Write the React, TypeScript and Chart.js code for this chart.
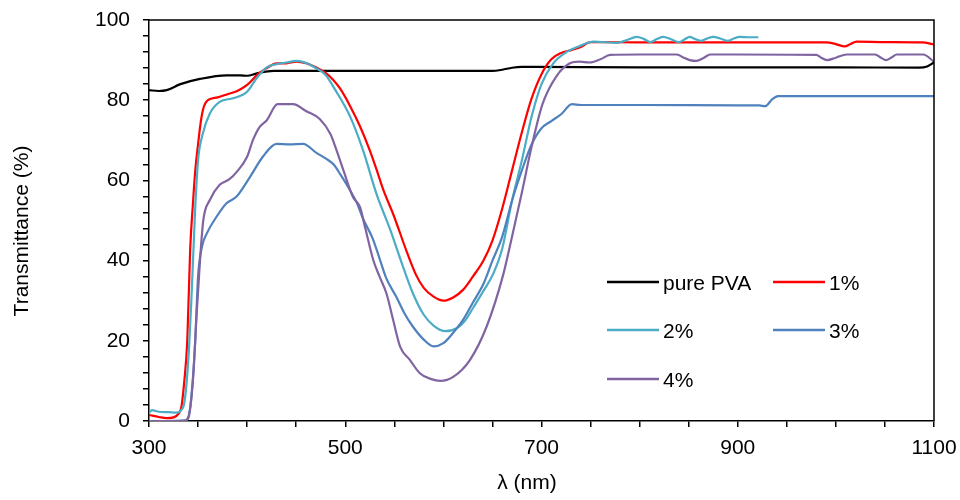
import React, { useEffect, useRef } from "react";
import { Chart, registerables } from "chart.js";

Chart.register(...registerables);

const FONT = "'Liberation Sans', Arial, Helvetica, sans-serif";

// ---- data ----
const seriesLabels = ["pure PVA", "1%", "2%", "3%", "4%"];
const seriesColors = ["#000000", "#FF0000", "#4BACC6", "#4F81BD", "#8064A2"];
const xTickLabels = [300, 500, 700, 900, 1100];
const yTickLabels = [0, 20, 40, 60, 80, 100];

const pvaX = [300, 310, 318, 332, 352, 379, 393, 400, 410, 427, 500, 600, 650, 660, 670, 680, 690, 800, 900, 1000, 1085, 1093, 1100];
const pvaY = [82.5, 82.3, 82.5, 84.0, 85.3, 86.2, 86.2, 86.1, 86.7, 87.3, 87.3, 87.3, 87.3, 87.6, 88.1, 88.3, 88.3, 88.2, 88.2, 88.2, 88.1, 88.4, 89.4];

const p1X = [300, 310, 318, 325, 330, 333, 336, 339, 342, 345, 347, 350, 353, 356, 360, 370, 380, 390, 400, 411, 420, 430, 440, 450, 460, 470, 480, 488, 495, 505, 515, 525, 532, 539, 549, 563, 572, 580, 590, 600, 610, 620, 630, 641, 650, 660, 670, 680, 690, 700, 710, 720, 730, 740, 750, 800, 900, 990, 1000, 1009, 1015, 1021, 1050, 1088, 1100];
const p1Y = [1.5, 1.0, 0.7, 0.9, 1.8, 3.5, 10, 20, 43, 55, 62, 69, 75, 78.5, 80, 80.7, 81.5, 82.3, 83.8, 86.5, 88, 89.2, 89.2, 89.6, 89.2, 88.2, 86.8, 85, 82.8, 78.5, 73.5, 67.5, 62.6, 57.5, 51.5, 42, 36.5, 33.2, 31, 30, 30.8, 32.7, 36, 40.1, 45, 53, 62.5, 72, 80.5, 86.5, 90.2, 91.8, 92.5, 93.3, 94.5, 94.4, 94.4, 94.4, 94.0, 93.4, 94.0, 94.6, 94.5, 94.4, 93.9];

const p2X = [300, 303, 310, 320, 328, 333, 336, 340, 343.5, 347, 350, 355, 362, 372, 386, 400, 410, 420, 430, 440, 450, 460, 470, 480, 490, 505, 518, 532, 546, 556, 569, 580, 590, 602, 614, 622, 631, 641, 651, 660, 670, 680, 690, 700, 712, 726, 739, 753, 777, 787, 797, 804, 811, 818, 824, 832, 840, 846, 851, 856, 862, 868, 875, 882, 890, 896, 902, 912, 921];
const p2Y = [2.0, 2.7, 2.3, 2.2, 2.1, 2.8, 4.5, 15, 32, 52.6, 65, 71.8, 76.7, 79.6, 80.5, 82.1, 85.6, 88.2, 89.0, 89.4, 89.8, 89.3, 88.0, 86.3, 82.5, 75.9, 67.6, 56.5, 47.6, 40.5, 31.8, 26.5, 23.8, 22.4, 23.2, 25, 28.5, 32.5, 36.8, 43, 55, 65, 76, 84, 89.2, 92.1, 93.5, 94.6, 94.3, 95.0, 95.8, 95.3, 94.5, 95.3, 95.8, 95.2, 94.5, 95.2, 95.8, 95.3, 94.8, 95.3, 95.8, 95.4, 94.8, 95.4, 95.8, 95.7, 95.7];

const p3X = [300, 320, 336, 340, 343.5, 347, 350, 354, 359, 369, 379, 389, 403, 416, 430, 443, 457, 471, 480, 488, 495, 505, 512, 518, 528, 535, 542, 552, 560, 569, 580, 590, 600, 610, 620, 630, 641, 650, 660, 670, 680, 690, 700, 710, 720, 731, 740, 800, 900, 922, 928, 935, 941, 1000, 1100];
const p3Y = [0, 0, 0.1, 0.7, 6.9, 19.4, 36, 43.5, 46.8, 51, 54.3, 55.9, 60.9, 65.9, 69.1, 69, 69.1, 66.8, 65.5, 64, 61.5, 57.5, 54.3, 50.5, 45.5, 40.5, 35.5, 31, 27, 23.5, 20.3, 18.6, 19.4, 22, 25.2, 29.5, 34.3, 40, 46, 55, 62.5, 69, 73, 74.8, 76.5, 79, 78.8, 78.8, 78.7, 78.7, 78.5, 80.2, 81.0, 81.0, 81.0];

const p4X = [300, 320, 337, 341.7, 345, 348.6, 352, 355.3, 362, 372, 382, 389, 400, 406, 413, 420, 431, 447, 460, 474, 485, 491, 498, 508, 515, 520, 528.6, 535, 542, 549, 556, 566, 576, 587, 597, 610, 627, 644, 661, 670, 680, 690, 701, 715, 729, 739, 749, 760, 770, 800, 838, 845, 851, 858, 865, 872, 900, 980, 985, 991, 1000, 1011, 1040, 1046, 1051, 1057, 1062, 1089, 1100];
const p4Y = [0, 0, 0.1, 2.7, 11, 26.9, 40.1, 50, 55.1, 58.9, 60.3, 62, 65.9, 70.1, 73.4, 75, 79, 79, 77.3, 75.3, 71.5, 67.6, 62.6, 55.8, 53.4, 48.5, 40.1, 36, 31.8, 25, 18.5, 15.2, 11.9, 10.5, 10, 11, 15.2, 23.5, 36.5, 46, 57, 68.5, 79, 85.9, 89.2, 89.6, 89.4, 90.2, 91.3, 91.4, 91.4, 90.6, 90, 89.8, 90.5, 91.4, 91.4, 91.3, 90.6, 90.0, 90.6, 91.4, 91.4, 90.6, 90.0, 90.7, 91.4, 91.4, 89.6];

const seriesX = [pvaX, p1X, p2X, p3X, p4X];
const seriesY = [pvaY, p1Y, p2Y, p3Y, p4Y];

const xTitle = "λ (nm)";
const yTitle = "Transmittance (%)";

function toPoints(xs: number[], ys: number[]) {
  return xs.map((x, i) => ({ x, y: ys[i] }));
}

const FS = 21;

const decorPlugin = {
  id: "decor",
  afterDraw(chart: any) {
    const { ctx, chartArea: a } = chart;
    ctx.save();
    // frame: top and right sides
    ctx.strokeStyle = "#000";
    ctx.lineWidth = 1.5;
    ctx.beginPath();
    ctx.moveTo(a.left, a.top);
    ctx.lineTo(a.right, a.top);
    ctx.lineTo(a.right, a.bottom);
    ctx.stroke();

    // legend inside the plot area, two columns
    ctx.font = `${FS}px ${FONT}`;
    ctx.fillStyle = "#000";
    ctx.textAlign = "left";
    ctx.textBaseline = "alphabetic";
    const colX = [a.left + 458, a.left + 624];
    const rowY = [a.top + 262, a.top + 310, a.top + 359];
    chart.data.datasets.forEach((ds: any, i: number) => {
      const x = colX[i % 2];
      const y = rowY[Math.floor(i / 2)];
      ctx.strokeStyle = ds.borderColor;
      ctx.lineWidth = 2.5;
      ctx.beginPath();
      ctx.moveTo(x, y);
      ctx.lineTo(x + 52, y);
      ctx.stroke();
      ctx.fillText(ds.label, x + 56, y + 0.36 * FS);
    });

    // axis titles
    ctx.textAlign = "center";
    ctx.fillText(xTitle, 527, 489);
    ctx.translate(28, 231);
    ctx.rotate(-Math.PI / 2);
    ctx.fillText(yTitle, 0, 0);
    ctx.restore();
  },
};

export default function App() {
  const ref = useRef<HTMLCanvasElement | null>(null);

  useEffect(() => {
    if (!ref.current) return;
    const datasets = seriesLabels.map((label, i) => ({
      label,
      data: toPoints(seriesX[i], seriesY[i]),
      borderColor: seriesColors[i],
      backgroundColor: seriesColors[i],
      borderWidth: 2.2,
      pointRadius: 0,
      fill: false,
      cubicInterpolationMode: "monotone" as const,
      order: seriesLabels.length - i,
    }));

    const chart = new Chart(ref.current, {
      type: "line",
      data: { datasets },
      options: {
        animation: false,
        responsive: false,
        devicePixelRatio: 1,
        layout: { padding: { top: 20, right: 26, left: 0, bottom: 0 } },
        plugins: {
          legend: { display: false },
          tooltip: { enabled: false },
          title: { display: false },
        },
        scales: {
          x: {
            type: "linear",
            min: 300,
            max: 1100,
            ticks: {
              stepSize: 50,
              autoSkip: false,
              maxRotation: 0,
              padding: 9,
              color: "#000",
              font: { family: FONT, size: FS },
              callback: (v: any) => (xTickLabels.includes(Number(v)) ? String(v) : ""),
            },
            grid: { drawOnChartArea: false, drawTicks: true, tickLength: 6, color: "#000", lineWidth: 1.5 },
            border: { display: true, color: "#000", width: 1.5 },
            afterFit: (s: any) => {
              s.height = 79;
              s.paddingLeft = 0;
              s.paddingRight = 0;
            },
          },
          y: {
            type: "linear",
            min: 0,
            max: 100,
            ticks: {
              stepSize: 4,
              autoSkip: false,
              padding: 13,
              color: "#000",
              font: { family: FONT, size: FS },
              callback: (v: any) => (yTickLabels.includes(Number(v)) ? String(v) : ""),
            },
            grid: { drawOnChartArea: false, drawTicks: true, tickLength: 6, color: "#000", lineWidth: 1.5 },
            border: { display: true, color: "#000", width: 1.5 },
            afterFit: (s: any) => {
              s.width = 149;
              s.paddingTop = 0;
              s.paddingBottom = 0;
            },
          },
        },
      },
      plugins: [decorPlugin],
    });
    return () => chart.destroy();
  }, []);

  return (
    <div style={{ position: "absolute", left: 0, top: 0, width: 960, height: 500, background: "#fff" }}>
      <canvas ref={ref} width={960} height={500} style={{ display: "block" }} />
    </div>
  );
}
